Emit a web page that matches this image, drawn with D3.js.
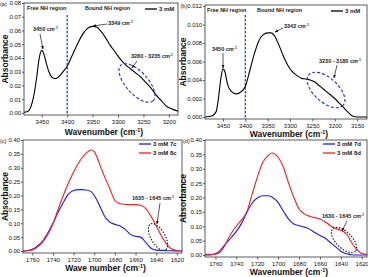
<!DOCTYPE html>
<html>
<head>
<meta charset="utf-8">
<script src="https://cdn.jsdelivr.net/npm/d3@7"></script>
<style>
  body { margin: 0; background: #fff; }
  svg { display: block; font-family: "Liberation Sans", Arial, sans-serif; }
  .tick text { font-size: 6px; fill: #111; }
  .tick line, .domain { stroke: #333; stroke-width: 0.8; }
</style>
</head>
<body>
<svg id="chart" width="368" height="277"></svg>
<script>
// panel (a) - 3 mM, NH stretch
const waveA = [3485, 3478, 3472, 3466, 3460, 3455, 3450, 3446, 3441, 3436, 3430, 3423, 3415, 3408, 3400,
  3390, 3380, 3370, 3360, 3350, 3342, 3335, 3325, 3315, 3305, 3295, 3285, 3275, 3265, 3255, 3245,
  3235, 3225, 3215, 3205, 3195, 3182];
const absA = [0.0005, 0.001, 0.004, 0.012, 0.026, 0.040, 0.0455, 0.043, 0.036, 0.030, 0.026, 0.025, 0.027, 0.030, 0.034,
  0.042, 0.050, 0.057, 0.0615, 0.063, 0.0625, 0.060, 0.055, 0.049, 0.044, 0.039, 0.035, 0.032, 0.029, 0.026, 0.022,
  0.018, 0.013, 0.009, 0.005, 0.003, 0.0012];

// panel (b) - 3 mM
const waveB = [3490, 3475, 3465, 3460, 3455, 3450, 3445, 3440, 3432, 3420, 3410, 3400, 3390, 3380, 3370, 3360,
  3350, 3342, 3335, 3325, 3315, 3305, 3295, 3285, 3275, 3265, 3255, 3245, 3235, 3225, 3210, 3200, 3190,
  3180, 3170, 3160, 3150, 3128];
const absB = [0.0, 0.0001, 0.0006, 0.002, 0.004, 0.0052, 0.0048, 0.0036, 0.0028, 0.0025, 0.0027, 0.0033, 0.0050, 0.0068, 0.0082, 0.0089,
  0.0091, 0.0091, 0.0088, 0.0078, 0.0066, 0.0056, 0.0049, 0.0045, 0.0042, 0.0041, 0.0040, 0.0038, 0.0034, 0.0030, 0.0024, 0.0020, 0.0015,
  0.0010, 0.0005, 0.0001, 0.0, 0.0];

// panel (c) - C=O region
const waveC = [1769, 1765, 1760, 1755, 1750, 1745, 1740, 1735, 1730, 1725, 1720, 1715, 1712, 1708, 1703, 1700, 1695,
  1690, 1685, 1680, 1675, 1670, 1665, 1660, 1655, 1650, 1645, 1640, 1635, 1630, 1625, 1620, 1615];
const abs7c = [0.0, 0.001, 0.006, 0.018, 0.036, 0.065, 0.100, 0.140, 0.175, 0.205, 0.218, 0.221, 0.221, 0.220, 0.214, 0.200, 0.165,
  0.125, 0.104, 0.096, 0.090, 0.078, 0.060, 0.053, 0.050, 0.030, 0.010, 0.003, 0.002, 0.001, 0.001, 0.0, 0.0];
const abs8c = [0.0, 0.001, 0.004, 0.014, 0.032, 0.060, 0.097, 0.150, 0.200, 0.245, 0.285, 0.318, 0.335, 0.352, 0.364, 0.358, 0.315,
  0.268, 0.225, 0.182, 0.170, 0.168, 0.167, 0.167, 0.165, 0.152, 0.125, 0.090, 0.055, 0.025, 0.007, 0.002, 0.001];

// panel (d)
const waveD = [1770, 1765, 1760, 1755, 1750, 1745, 1740, 1735, 1730, 1725, 1720, 1715, 1710, 1706, 1700, 1695,
  1690, 1685, 1680, 1675, 1670, 1665, 1660, 1655, 1650, 1645, 1640, 1637, 1633, 1630, 1625, 1620, 1615];
const abs7d = [0.0, 0.0005, 0.004, 0.018, 0.040, 0.060, 0.082, 0.110, 0.148, 0.180, 0.198, 0.206, 0.206, 0.202, 0.182, 0.152,
  0.125, 0.108, 0.102, 0.097, 0.090, 0.078, 0.068, 0.058, 0.043, 0.028, 0.013, 0.007, 0.003, 0.001, 0.0, 0.0, 0.0];
const abs8d = [0.002, 0.002, 0.003, 0.012, 0.040, 0.075, 0.100, 0.122, 0.150, 0.210, 0.270, 0.320, 0.345, 0.355, 0.340, 0.305,
  0.250, 0.200, 0.160, 0.143, 0.135, 0.130, 0.125, 0.115, 0.102, 0.092, 0.086, 0.080, 0.065, 0.045, 0.020, 0.005, 0.002];

const ticksAB = [3450, 3400, 3350, 3300, 3250, 3200, 3150];
const ticksCD = [1760, 1740, 1720, 1700, 1680, 1660, 1640, 1620];
const yTicksA = [0, 0.01, 0.02, 0.03, 0.04, 0.05, 0.06, 0.07, 0.08];
const yTicksB = [0, 0.002, 0.004, 0.006, 0.008, 0.010, 0.012];
const yTicksCD = [0, 0.05, 0.10, 0.15, 0.20, 0.25, 0.30, 0.35, 0.40];

const svg = d3.select('#chart');

function panel(o) {
  const x = d3.scaleLinear().domain(o.xd).range([o.l, o.r]);
  const y = d3.scaleLinear().domain(o.yd).range([o.b, o.t]);
  const g = svg.append('g');

  // frame
  g.append('rect')
    .attr('x', o.l).attr('y', o.t)
    .attr('width', o.r - o.l).attr('height', o.b - o.t)
    .attr('fill', 'none').attr('stroke', '#333').attr('stroke-width', 0.8);

  const xt = o.xticks.filter(v => v <= o.xd[0] && v >= o.xd[1]);
  g.append('g')
    .attr('transform', `translate(0,${o.b})`)
    .call(d3.axisBottom(x).tickValues(xt).tickSize(2.5).tickPadding(2).tickFormat(d3.format('d')))
    .call(s => s.select('.domain').remove());

  g.append('g')
    .attr('transform', `translate(${o.l},0)`)
    .call(d3.axisLeft(y).tickValues(o.yticks).tickSize(2).tickPadding(0.8).tickFormat(d3.format(o.yfmt)))
    .call(s => s.select('.domain').remove());

  // axis titles
  const xt2 = g.append('text')
    .attr('x', (o.l + o.r) / 2 + 3).attr('y', o.xtY)
    .attr('text-anchor', 'middle')
    .attr('font-size', 8.5).attr('font-weight', 'bold').attr('fill', '#111')
    .text(o.xtitle + ' (cm');
  xt2.append('tspan').attr('font-size', 5.5).attr('dy', -3).text('-1');
  xt2.append('tspan').attr('dy', 3).text(')');

  g.append('text')
    .attr('transform', `translate(${o.ytX},${(o.t + o.b) / 2}) rotate(-90)`)
    .attr('text-anchor', 'middle')
    .attr('font-size', 8.5).attr('font-weight', 'bold').attr('fill', '#111')
    .text('Absorbance');

  g.append('text')
    .attr('x', o.tagX).attr('y', o.t + 3)
    .attr('font-size', 5.5).attr('fill', '#111')
    .text(o.tag);

  return { g, x, y };
}

function curve(p, waves, vals, color) {
  const line = d3.line()
    .x((d, i) => p.x(waves[i]))
    .y(d => p.y(d))
    .curve(d3.curveMonotoneX);
  p.g.append('path')
    .attr('d', line(vals))
    .attr('fill', 'none')
    .attr('stroke', color)
    .attr('stroke-width', 1.1);
}

function label(p, x, y, txt, size, sup) {
  const t = p.g.append('text')
    .attr('x', x).attr('y', y)
    .attr('font-size', size).attr('fill', '#222')
    .attr('font-weight', 'bold')
    .text(txt);
  if (sup) {
    t.append('tspan').attr('font-size', size * 0.65).attr('dy', -2.5).text('-1');
  }
}

function arrow(p, x1, y1, x2, y2) {
  p.g.append('line')
    .attr('x1', x1).attr('y1', y1).attr('x2', x2).attr('y2', y2)
    .attr('stroke', '#111').attr('stroke-width', 0.7)
    .attr('marker-end', 'url(#arr)');
}

function ellipse(p, cx, cy, rx, ry, ang, color, dash) {
  p.g.append('ellipse')
    .attr('cx', cx).attr('cy', cy).attr('rx', rx).attr('ry', ry)
    .attr('transform', `rotate(${ang},${cx},${cy})`)
    .attr('fill', 'none').attr('stroke', color)
    .attr('stroke-width', 1.1).attr('stroke-dasharray', dash);
}

function legend(p, x, y, items) {
  items.forEach((it, i) => {
    p.g.append('line')
      .attr('x1', x).attr('x2', x + 12)
      .attr('y1', y + i * 9).attr('y2', y + i * 9)
      .attr('stroke', it.color).attr('stroke-width', 1.3);
    p.g.append('text')
      .attr('x', x + 14).attr('y', y + i * 9 + 2)
      .attr('font-size', 6).attr('font-weight', 'bold').attr('fill', '#222')
      .text(it.name);
  });
}

svg.append('defs').append('marker')
  .attr('id', 'arr').attr('viewBox', '0 0 10 10')
  .attr('refX', 9).attr('refY', 5)
  .attr('markerWidth', 5).attr('markerHeight', 5)
  .attr('orient', 'auto')
  .append('path').attr('d', 'M0,1 L10,5 L0,9 Z').attr('fill', '#111');

const dashBlue = '#1a2bff';

// (a)
const pa = panel({ l: 24, r: 178, t: 3, b: 115, xd: [3485, 3182], yd: [-0.0015, 0.08],
  xticks: ticksAB, yticks: yTicksA, yfmt: '.2f', xtitle: 'Wavenumber', xtY: 135, ytX: 7.5, tagX: 0, tag: '(a)' });
pa.g.append('line')
  .attr('x1', pa.x(3400)).attr('x2', pa.x(3400)).attr('y1', 15).attr('y2', 115)
  .attr('stroke', dashBlue).attr('stroke-width', 1.2).attr('stroke-dasharray', '2.5,1.5');
curve(pa, waveA, absA, '#000');
label(pa, 27, 10, 'Free NH region', 5.5);
label(pa, 85, 10, 'Bound NH region', 5.5);
legend(pa, 145, 9, [{ name: '3 mM', color: '#000' }]);
label(pa, 33, 31, '3450 cm', 5.5, true);
arrow(pa, 40, 34, 43, 49);
label(pa, 108, 25, '3349 cm', 5.5, true);
arrow(pa, 107, 24, 93, 26);
label(pa, 131, 58, '3280 - 3235  cm', 5.5, true);
arrow(pa, 137, 61, 132, 68);
ellipse(pa, 137, 83, 24, 11, 48, dashBlue, '3,2');

// (b)
const pb = panel({ l: 205, r: 367, t: 5, b: 119, xd: [3490, 3128], yd: [-0.00022, 0.01211],
  xticks: ticksAB, yticks: yTicksB, yfmt: '.3f', xtitle: 'Wavenumber', xtY: 137, ytX: 185.5, tagX: 180.5, tag: '(b)' });
pb.g.append('line')
  .attr('x1', pb.x(3400)).attr('x2', pb.x(3400)).attr('y1', 15).attr('y2', 119)
  .attr('stroke', dashBlue).attr('stroke-width', 1.2).attr('stroke-dasharray', '2.5,1.5');
curve(pb, waveB, absB, '#000');
label(pb, 207, 12, 'Free NH region', 5.5);
label(pb, 257, 12, 'Bound NH region', 5.5);
legend(pb, 331, 11, [{ name: '3 mM', color: '#000' }]);
label(pb, 212, 51, '3450 cm', 5.5, true);
arrow(pb, 223, 53, 223, 68);
label(pb, 284, 28, '3342 cm', 5.5, true);
arrow(pb, 283, 28, 275, 32);
label(pb, 319, 63, '3230 - 3180 cm', 5.5, true);
arrow(pb, 337, 65, 334, 78);
ellipse(pb, 326, 90, 23, 12, 42, dashBlue, '3,2');

// (c)
const pc = panel({ l: 23, r: 182, t: 140, b: 253, xd: [1769, 1615], yd: [-0.0072, 0.4],
  xticks: ticksCD, yticks: yTicksCD, yfmt: '.2f', xtitle: 'Wave number', xtY: 271, ytX: 7.5, tagX: 0, tag: '(c)' });
curve(pc, waveC, abs7c, '#1a1aff');
curve(pc, waveC, abs8c, '#ff1a1a');
legend(pc, 139, 144, [{ name: '3 mM 7c', color: '#1a1aff' }, { name: '3 mM 8c', color: '#ff1a1a' }]);
label(pc, 132, 200, '1635 - 1645 cm', 5.5, true);
arrow(pc, 160, 203, 157, 224);
ellipse(pc, 158, 237, 15, 7, 60, '#111', '1.5,1.5');

// (d)
const pd = panel({ l: 205, r: 367, t: 140, b: 257, xd: [1770, 1615], yd: [-0.007, 0.4],
  xticks: ticksCD, yticks: yTicksCD, yfmt: '.2f', xtitle: 'Wavenumber', xtY: 275, ytX: 185.5, tagX: 183, tag: '(d)' });
curve(pd, waveD, abs7d, '#1a1aff');
curve(pd, waveD, abs8d, '#ff1a1a');
legend(pd, 323, 144, [{ name: '3 mM 7d', color: '#1a1aff' }, { name: '3 mM 8d', color: '#ff1a1a' }]);
label(pd, 322, 218, '1630 - 1645 cm', 5.5, true);
arrow(pd, 347, 221, 342, 231);
ellipse(pd, 344, 240, 16, 8, 45, '#111', '1.5,1.5');
</script>
</body>
</html>
